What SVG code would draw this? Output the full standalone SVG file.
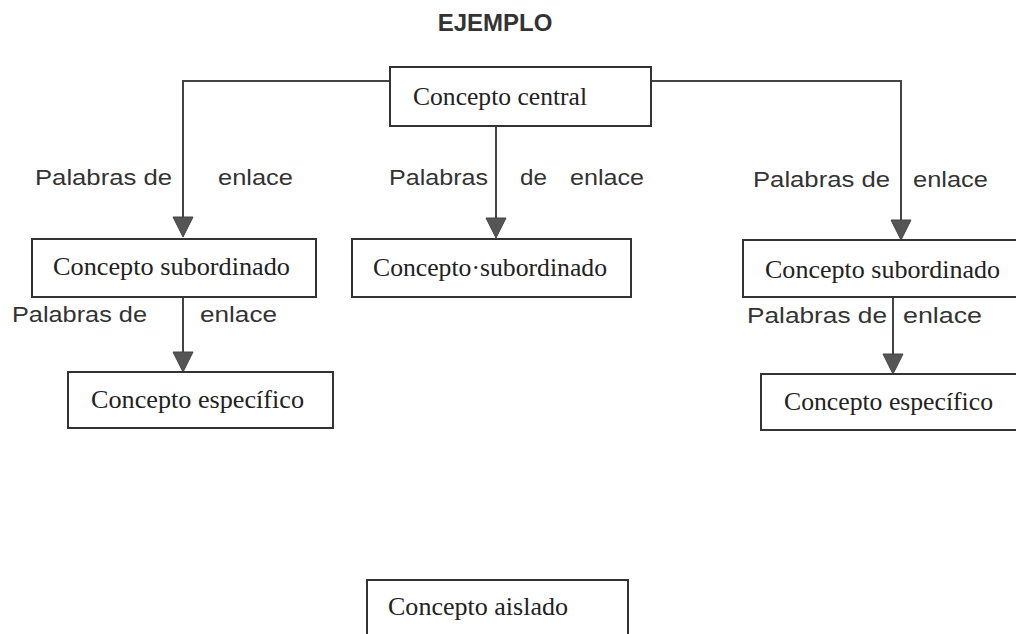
<svg xmlns="http://www.w3.org/2000/svg" width="1016" height="634" viewBox="0 0 1016 634">
  <style>
    .box { fill: #fff; stroke: #333; stroke-width: 2; }
    .concept { font-family: "Liberation Serif", "Times New Roman", serif; font-size: 26px; fill: #222; }
    .link { font-family: "Liberation Sans", Arial, sans-serif; font-size: 22px; fill: #333; }
    .title { font-family: "Liberation Sans", Arial, sans-serif; font-size: 24px; font-weight: bold; fill: #333; }
    .wire { fill: none; stroke: #444; stroke-width: 2; }
    .head { fill: #555; stroke: #444; stroke-width: 1; }
  </style>

  <rect width="1016" height="634" fill="#fff"/>

  <text class="title" x="495" y="31" text-anchor="middle">EJEMPLO</text>

  <!-- connectors -->
  <g id="connectors">
    <path class="wire" d="M390,81 H183 V217"/>
    <path class="wire" d="M651,81 H901 V220"/>
    <path class="wire" d="M496,126 V218"/>
    <path class="wire" d="M183,297 V352"/>
    <path class="wire" d="M893,297 V354"/>
    <path class="head" d="M173,217 L193,217 L183,237 Z"/>
    <path class="head" d="M891,220 L911,220 L901,240 Z"/>
    <path class="head" d="M486,218 L506,218 L496,238 Z"/>
    <path class="head" d="M173,352 L193,352 L183,372 Z"/>
    <path class="head" d="M883,354 L903,354 L893,374 Z"/>
  </g>

  <!-- linking words -->
  <g id="labels">
    <text class="link" x="35" y="185" textLength="137" lengthAdjust="spacingAndGlyphs">Palabras de</text>
    <text class="link" x="218" y="185" textLength="75" lengthAdjust="spacingAndGlyphs">enlace</text>
    <text class="link" x="389" y="185" textLength="99" lengthAdjust="spacingAndGlyphs">Palabras</text>
    <text class="link" x="520" y="185" textLength="27" lengthAdjust="spacingAndGlyphs">de</text>
    <text class="link" x="570" y="185" textLength="74" lengthAdjust="spacingAndGlyphs">enlace</text>
    <text class="link" x="753" y="187" textLength="137" lengthAdjust="spacingAndGlyphs">Palabras de</text>
    <text class="link" x="913" y="187" textLength="75" lengthAdjust="spacingAndGlyphs">enlace</text>
    <text class="link" x="12" y="322" textLength="135" lengthAdjust="spacingAndGlyphs">Palabras de</text>
    <text class="link" x="200" y="322" textLength="77" lengthAdjust="spacingAndGlyphs">enlace</text>
    <text class="link" x="747" y="323" textLength="140" lengthAdjust="spacingAndGlyphs">Palabras de</text>
    <text class="link" x="903" y="323" textLength="79" lengthAdjust="spacingAndGlyphs">enlace</text>
  </g>

  <g id="central">
    <rect class="box" x="390" y="67" width="261" height="59"/>
    <text class="concept" x="413" y="105" textLength="174" lengthAdjust="spacingAndGlyphs">Concepto central</text>
  </g>

  <g id="sub-left">
    <rect class="box" x="32" y="239" width="284" height="58"/>
    <text class="concept" x="53" y="275" textLength="237" lengthAdjust="spacingAndGlyphs">Concepto subordinado</text>
  </g>

  <g id="sub-middle">
    <rect class="box" x="352" y="239" width="279" height="58"/>
    <text class="concept" x="373" y="276" textLength="234" lengthAdjust="spacingAndGlyphs">Concepto·subordinado</text>
  </g>

  <g id="sub-right">
    <rect class="box" x="743" y="240" width="290" height="57"/>
    <text class="concept" x="765" y="278" textLength="235" lengthAdjust="spacingAndGlyphs">Concepto subordinado</text>
  </g>

  <g id="specific-left">
    <rect class="box" x="68" y="372" width="265" height="56"/>
    <text class="concept" x="91" y="408" textLength="213" lengthAdjust="spacingAndGlyphs">Concepto específico</text>
  </g>

  <g id="specific-right">
    <rect class="box" x="761" y="374" width="270" height="56"/>
    <text class="concept" x="784" y="410" textLength="209" lengthAdjust="spacingAndGlyphs">Concepto específico</text>
  </g>

  <g id="isolated">
    <rect class="box" x="367" y="580" width="261" height="70"/>
    <text class="concept" x="388" y="615" textLength="180" lengthAdjust="spacingAndGlyphs">Concepto aislado</text>
  </g>
</svg>
